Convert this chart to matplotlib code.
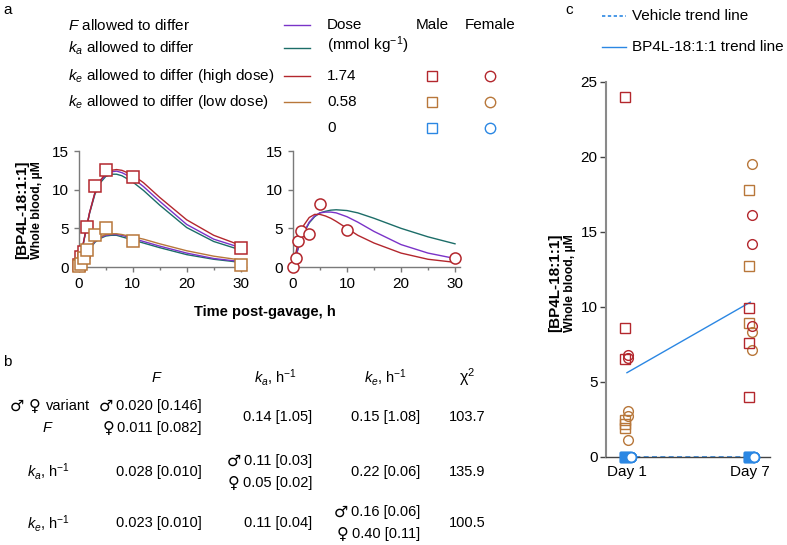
import matplotlib.pyplot as plt

plt.rcParams['font.family'] = ['Liberation Sans', 'DejaVu Sans']
plt.rcParams['mathtext.fontset'] = 'custom'
plt.rcParams['mathtext.rm'] = 'Liberation Sans'
plt.rcParams['mathtext.it'] = 'Liberation Sans:italic'
plt.rcParams['mathtext.bf'] = 'Liberation Sans:bold'

W, H = 787, 545

# colours
RED = '#b3272d'
BROWN = '#b8773a'
BLUE = '#2b87e3'
PURPLE = '#7a33c8'
TEAL = '#1c6d68'

# ---- panel a data ----
sample_t = [0, 0.5, 1, 1.5, 3, 5, 10, 30]
male_high = [0.2, 1.3, 2.0, 5.2, 10.5, 12.5, 11.6, 2.4]
male_low = [0.1, 0.4, 1.1, 2.2, 4.2, 5.0, 3.3, 0.2]
female_high = [0.0, 1.1, 3.3, 4.7, 4.3, 8.2, 4.8, 1.1]

fit_t = [0, 1, 2, 3, 4, 5, 6, 7, 8, 10, 12, 15, 20, 25, 30]
m_high_ke = [0, 3.6, 7.0, 9.6, 11.2, 12.1, 12.5, 12.6, 12.5, 11.9, 10.9, 9.0, 6.1, 4.1, 2.8]
m_high_F = [0, 3.6, 7.0, 9.6, 11.1, 11.9, 12.3, 12.4, 12.2, 11.5, 10.4, 8.5, 5.5, 3.6, 2.5]
m_high_ka = [0, 3.5, 6.9, 9.4, 10.9, 11.7, 12.0, 12.0, 11.8, 11.0, 9.9, 8.0, 5.1, 3.3, 2.2]
m_low_ke = [0, 1.3, 2.5, 3.4, 3.9, 4.2, 4.3, 4.3, 4.2, 3.9, 3.6, 3.0, 2.1, 1.4, 0.9]
m_low_F = [0, 1.3, 2.4, 3.3, 3.8, 4.1, 4.2, 4.2, 4.1, 3.7, 3.3, 2.7, 1.8, 1.1, 0.7]
m_low_ka = [0, 1.2, 2.3, 3.2, 3.7, 4.0, 4.1, 4.1, 3.9, 3.5, 3.1, 2.5, 1.6, 1.0, 0.6]
f_high_ke = [0, 3.4, 5.4, 6.4, 6.8, 6.8, 6.6, 6.3, 5.9, 5.0, 4.1, 3.1, 1.8, 1.0, 0.6]
f_high_F = [0, 2.6, 4.5, 5.8, 6.6, 7.0, 7.1, 7.1, 7.0, 6.5, 5.8, 4.6, 2.9, 1.8, 1.1]
f_high_ka = [0, 2.5, 4.4, 5.7, 6.5, 7.0, 7.2, 7.35, 7.4, 7.3, 7.0, 6.3, 5.0, 3.9, 3.0]

legend_labels = [r'$F$ allowed to differ', r'$k_a$ allowed to differ',
                 r'$k_e$ allowed to differ (high dose)', r'$k_e$ allowed to differ (low dose)']
legend_colors = [PURPLE, TEAL, RED, BROWN]
doses = ['1.74', '0.58', '0']
dose_colors = [RED, BROWN, BLUE]

# ---- panel b data ----
col_heads = [r'$F$', r'$k_a$, h$^{-1}$', r'$k_e$, h$^{-1}$', r'χ$^2$']
row_heads = [r'$F$', r'$k_a$, h$^{-1}$', r'$k_e$, h$^{-1}$']
col_F = [[('♂', '0.020 [0.146]'), ('♀', '0.011 [0.082]')], [('', '0.028 [0.010]')], [('', '0.023 [0.010]')]]
col_ka = [[('', '0.14 [1.05]')], [('♂', '0.11 [0.03]'), ('♀', '0.05 [0.02]')], [('', '0.11 [0.04]')]]
col_ke = [[('', '0.15 [1.08]')], [('', '0.22 [0.06]')], [('♂', '0.16 [0.06]'), ('♀', '0.40 [0.11]')]]
chi2 = ['103.7', '135.9', '100.5']

# ---- panel c data ----
days = ['Day 1', 'Day 7']
day1_high_m = [24.0, 8.6, 6.5]
day1_high_f = [6.8, 6.6]
day1_low_m = [2.45, 2.2, 1.9]
day1_low_f = [3.07, 2.7, 1.1]
day7_high_m = [9.9, 7.6, 4.0]
day7_high_f = [16.1, 14.2, 8.7]
day7_low_m = [17.8, 12.7, 8.9]
day7_low_f = [19.5, 8.3, 7.1]
vehicle_m = [0, 0, 0, 0]
vehicle_f = [0, 0, 0, 0]
bp4l_trend = [5.6, 10.3]
vehicle_trend = [0, 0]


def fx(x):
    return x / W


def fy(y):
    return 1 - y / H


fig = plt.figure(figsize=(7.87, 5.45), dpi=100)
renderer = fig.canvas.get_renderer()


def style_a(ax):
    for s in ['top', 'right']:
        ax.spines[s].set_visible(False)
    for s in ['left', 'bottom']:
        ax.spines[s].set_color('#7a7a7a')
        ax.spines[s].set_linewidth(1.0)
    ax.set_xlim(0, 31)
    ax.set_ylim(0, 15)
    ax.set_xticks([0, 10, 20, 30])
    ax.set_xticks([5, 15, 25], minor=True)
    ax.set_yticks([0, 5, 10, 15])
    ax.tick_params(colors='#7a7a7a', labelcolor='black', labelsize=11, length=3.5, width=1)
    ax.tick_params(which='minor', colors='#7a7a7a', length=2.5, width=1)
    ax.patch.set_alpha(0)


# ---- panel a ----
axL = fig.add_axes([fx(78.7), fy(267), 167.4 / W, 116 / H])
axR = fig.add_axes([fx(293), fy(267), 167.4 / W, 116 / H])
for ax in (axL, axR):
    style_a(ax)

lw = 1.0
for series, c in [(m_high_ka, TEAL), (m_high_F, PURPLE), (m_high_ke, RED),
                  (m_low_ka, TEAL), (m_low_F, PURPLE), (m_low_ke, BROWN)]:
    axL.plot(fit_t, series, color=c, lw=lw)
for series, c in [(f_high_ka, TEAL), (f_high_F, PURPLE), (f_high_ke, RED)]:
    axR.plot(fit_t, series, color=c, lw=lw)

axL.plot(sample_t, male_high, ls='none', marker='s', ms=9, mfc='white', mec=RED, mew=1.1, clip_on=False, zorder=5)
axL.plot(sample_t, male_low, ls='none', marker='s', ms=9, mfc='white', mec=BROWN, mew=1.1, clip_on=False, zorder=6)
axR.plot(sample_t, female_high, ls='none', marker='o', ms=8, mfc='white', mec=RED, mew=1.1, clip_on=False, zorder=5)

fig.text(fx(265), fy(312), 'Time post-gavage, h', fontsize=10.5, fontweight='bold', ha='center', va='center')
fig.text(fx(22), fy(210), '[BP4L-18:1:1]', fontsize=11, fontweight='bold', rotation=90, ha='center', va='center')
fig.text(fx(37), fy(210), 'Whole blood, µM', fontsize=8.8, fontweight='bold', rotation=90, ha='center', va='center')

# legend of panel a
rows_y = [25, 48, 76, 102, 128]
for i, (lab, c) in enumerate(zip(legend_labels, legend_colors)):
    fig.text(fx(68), fy(rows_y[i]), lab, fontsize=11, ha='left', va='center')
    fig.add_artist(plt.Line2D([fx(284), fx(310)], [fy(rows_y[i]), fy(rows_y[i])], color=c, lw=1.0))
fig.text(fx(327), fy(25), 'Dose', fontsize=11, ha='left', va='center')
fig.text(fx(327), fy(45), '(mmol kg$^{-1}$)', fontsize=11, ha='left', va='center')
fig.text(fx(432), fy(25), 'Male', fontsize=11, ha='center', va='center')
fig.text(fx(490), fy(25), 'Female', fontsize=11, ha='center', va='center')
for i, (d, c) in enumerate(zip(doses, dose_colors)):
    y = rows_y[i + 2]
    fig.text(fx(327), fy(y), d, fontsize=11, ha='left', va='center')
    fig.add_artist(plt.Line2D([fx(432)], [fy(y)], marker='s', ms=7.5, mfc='none', mec=c, mew=1.0, ls='none'))
    fig.add_artist(plt.Line2D([fx(490)], [fy(y)], marker='o', ms=7.5, mfc='none', mec=c, mew=1.0, ls='none'))

# ---- panel b (table) ----
fs_b = 10.5


def cell(x_right, y, text, sym=''):
    t = fig.text(fx(x_right), fy(y), text, fontsize=fs_b, ha='right', va='center')
    if sym:
        bb = t.get_window_extent(renderer=renderer)
        fig.text((bb.x0 - 3) / W, fy(y), sym, fontsize=11.5, family='DejaVu Sans', ha='right', va='center')
    return t


fig.text(fx(157), fy(378), col_heads[0], fontsize=fs_b, ha='center', va='center')
fig.text(fx(275), fy(378), col_heads[1], fontsize=fs_b, ha='center', va='center')
fig.text(fx(385), fy(378), col_heads[2], fontsize=fs_b, ha='center', va='center')
fig.text(fx(467), fy(377), col_heads[3], fontsize=11.5, ha='center', va='center')

row_mid = [417, 472, 523]
t_var = fig.text(fx(90), fy(406), 'variant', fontsize=fs_b, ha='right', va='center')
bb = t_var.get_window_extent(renderer=renderer)
t_f = fig.text((bb.x0 - 5) / W, fy(406), '♀', fontsize=11.5, family='DejaVu Sans', ha='right', va='center')
bb = t_f.get_window_extent(renderer=renderer)
fig.text((bb.x0 - 5) / W, fy(406), '♂', fontsize=11.5, family='DejaVu Sans', ha='right', va='center')
fig.text(fx(48), fy(428), row_heads[0], fontsize=fs_b, ha='center', va='center')
fig.text(fx(48), fy(row_mid[1]), row_heads[1], fontsize=fs_b, ha='center', va='center')
fig.text(fx(48), fy(row_mid[2]), row_heads[2], fontsize=fs_b, ha='center', va='center')

col_right = [202, 312, 420]
for r in range(3):
    for ci, col in enumerate([col_F, col_ka, col_ke]):
        cells = col[r]
        if len(cells) == 1:
            cell(col_right[ci], row_mid[r], cells[0][1], cells[0][0])
        else:
            cell(col_right[ci], row_mid[r] - 11, cells[0][1], cells[0][0])
            cell(col_right[ci], row_mid[r] + 11, cells[1][1], cells[1][0])
    fig.text(fx(467), fy(row_mid[r]), chi2[r], fontsize=fs_b, ha='center', va='center')

# ---- panel c ----
axC = fig.add_axes([fx(606), fy(456.7), 164 / W, 375 / H])
for s in ['top', 'right']:
    axC.spines[s].set_visible(False)
axC.spines['left'].set_color('#8a8a8a')
axC.spines['left'].set_linewidth(1.5)
axC.spines['bottom'].set_color('#444444')
axC.spines['bottom'].set_linewidth(1.0)
axC.set_xlim(-0.17, 1.16)
axC.set_ylim(0, 25)
axC.set_yticks([0, 5, 10, 15, 20, 25])
axC.set_xticks([0, 1])
axC.set_xticklabels(days)
axC.tick_params(axis='y', labelsize=11, length=4, width=1, colors='#444444', labelcolor='black', pad=2)
axC.tick_params(axis='x', labelsize=11, length=0, pad=6)
axC.patch.set_alpha(0)

axC.plot([0, 1], vehicle_trend, color=BLUE, lw=1.2, ls=(0, (3, 2)), zorder=2)
axC.plot([0, 1], bp4l_trend, color=BLUE, lw=1.0, zorder=2)

ms_c = 7
sq_off, ci_off = -0.012, 0.012
for day_x, data in [(0, (day1_high_m, day1_high_f, day1_low_m, day1_low_f)),
                    (1, (day7_high_m, day7_high_f, day7_low_m, day7_low_f))]:
    hm, hf, lm, lf = data
    axC.plot([day_x + sq_off] * len(vehicle_m), vehicle_m, ls='none', marker='s', ms=ms_c,
             mfc=BLUE, mec=BLUE, mew=1.0, clip_on=False, zorder=3)
    axC.plot([day_x + ci_off + 0.02] * len(vehicle_f), vehicle_f, ls='none', marker='o', ms=ms_c,
             mfc='white', mec=BLUE, mew=1.2, clip_on=False, zorder=4)
    axC.plot([day_x + sq_off] * len(lm), lm, ls='none', marker='s', ms=ms_c, mfc='none', mec=BROWN, mew=1.0, zorder=3)
    axC.plot([day_x + ci_off] * len(lf), lf, ls='none', marker='o', ms=ms_c, mfc='none', mec=BROWN, mew=1.0, zorder=3)
    axC.plot([day_x + sq_off] * len(hm), hm, ls='none', marker='s', ms=ms_c, mfc='none', mec=RED, mew=1.0, zorder=3)
    axC.plot([day_x + ci_off] * len(hf), hf, ls='none', marker='o', ms=ms_c, mfc='none', mec=RED, mew=1.0, zorder=3)

fig.text(fx(555), fy(283), '[BP4L-18:1:1]', fontsize=11, fontweight='bold', rotation=90, ha='center', va='center')
fig.text(fx(570), fy(283), 'Whole blood, µM', fontsize=8.8, fontweight='bold', rotation=90, ha='center', va='center')

fig.add_artist(plt.Line2D([fx(602), fx(626)], [fy(16), fy(16)], color=BLUE, lw=1.2, ls=(0, (2, 1.5))))
fig.text(fx(632), fy(16), 'Vehicle trend line', fontsize=11, ha='left', va='center')
fig.add_artist(plt.Line2D([fx(602), fx(626)], [fy(47), fy(47)], color=BLUE, lw=1.0))
fig.text(fx(632), fy(47), 'BP4L-18:1:1 trend line', fontsize=11, ha='left', va='center')

# panel letters
fig.text(fx(3), fy(10), 'a', fontsize=11, ha='left', va='center')
fig.text(fx(3), fy(362), 'b', fontsize=11, ha='left', va='center')
fig.text(fx(565), fy(10), 'c', fontsize=11, ha='left', va='center')

fig.savefig('out.png', dpi=100)
